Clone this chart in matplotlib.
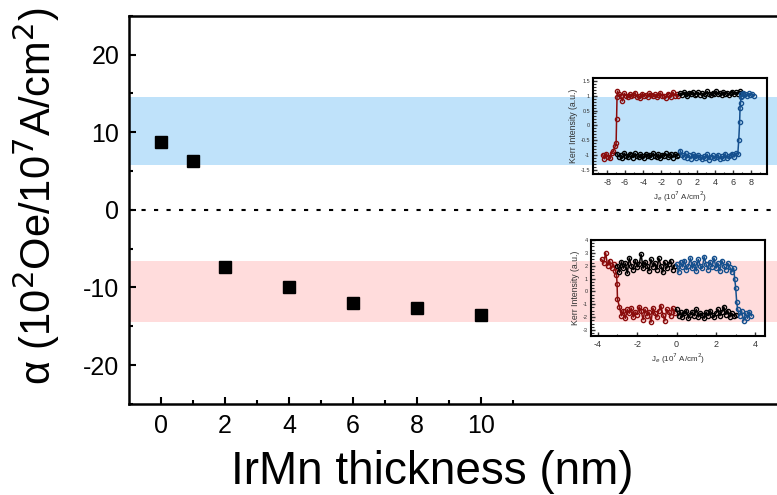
import matplotlib
matplotlib.use("Agg")
import matplotlib.pyplot as plt

plt.rcParams["font.family"] = ["Liberation Sans", "DejaVu Sans"]
plt.rcParams["axes.unicode_minus"] = False

# main data
thickness = [0, 1, 2, 4, 6, 8, 10]
alpha_val = [8.8, 6.3, -7.3, -10.0, -12.0, -12.6, -13.5]
blue_band = [5.8, 14.6]
red_band = [-14.5, -6.6]

# inset 1 (Kerr loop, positive a)
k1_red_x = [-8.5, -8.3, -8.1, -7.9, -7.7, -7.5, -7.3, -7.1, -7.0, -6.95, -6.9, -6.85,
            -6.7, -6.5, -6.3, -6.1, -5.9, -5.7, -5.5, -5.3, -5.1, -4.9, -4.7, -4.5,
            -4.3, -4.1, -3.9, -3.7, -3.5, -3.3, -3.1, -2.9, -2.7, -2.5, -2.3, -2.1,
            -1.9, -1.7, -1.5, -1.3, -1.1, -0.9, -0.7, -0.5, -0.3, -0.1]
k1_red_y = [-0.98, -1.12, -0.95, -1.05, -1.1, -0.92, -0.85, -0.7, -0.6, 0.22, 0.95, 1.15,
            1.05, 0.98, 0.82, 1.08, 1.0, 0.94, 1.06, 0.97, 1.02, 1.1, 0.96, 1.0,
            0.93, 1.07, 0.99, 1.03, 0.95, 1.08, 1.01, 0.97, 1.05, 0.94, 1.02, 1.09,
            0.98, 1.0, 0.93, 1.06, 1.01, 0.96, 1.12, 0.99, 1.04, 1.0]
k1_blk_up_x = [0.1, 0.3, 0.5, 0.7, 0.9, 1.1, 1.3, 1.5, 1.7, 1.9, 2.1, 2.3, 2.5, 2.7,
               2.9, 3.1, 3.3, 3.5, 3.7, 3.9, 4.1, 4.3, 4.5, 4.7, 4.9, 5.1, 5.3, 5.5,
               5.7, 5.9, 6.1, 6.3, 6.5, 6.7, 6.9]
k1_blk_up_y = [1.08, 1.02, 1.12, 1.05, 0.99, 1.1, 1.04, 1.13, 1.01, 1.07, 1.11, 1.03,
               1.09, 1.0, 1.06, 1.14, 1.05, 1.02, 1.1, 1.07, 1.15, 1.04, 1.09, 1.01,
               1.12, 1.06, 1.1, 1.03, 1.08, 1.13, 1.05, 1.11, 1.07, 1.15, 1.09]
k1_blk_lo_x = [-6.9, -6.7, -6.5, -6.3, -6.1, -5.9, -5.7, -5.5, -5.3, -5.1, -4.9, -4.7,
               -4.5, -4.3, -4.1, -3.9, -3.7, -3.5, -3.3, -3.1, -2.9, -2.7, -2.5, -2.3,
               -2.1, -1.9, -1.7, -1.5, -1.3, -1.1, -0.9, -0.7, -0.5, -0.3, -0.1]
k1_blk_lo_y = [-0.95, -1.05, -0.98, -1.1, -0.93, -1.02, -1.07, -0.96, -1.0, -1.08, -0.94,
               -1.03, -1.06, -0.97, -1.01, -1.09, -0.95, -1.04, -0.99, -1.07, -0.93, -1.02,
               -1.05, -0.96, -1.1, -0.98, -1.03, -0.94, -1.06, -1.0, -0.97, -1.08, -0.95,
               -1.02, -0.99]
k1_blue_x = [0.1, 0.3, 0.5, 0.7, 0.9, 1.1, 1.3, 1.5, 1.7, 1.9, 2.1, 2.3, 2.5, 2.7,
             2.9, 3.1, 3.3, 3.5, 3.7, 3.9, 4.1, 4.3, 4.5, 4.7, 4.9, 5.1, 5.3, 5.5,
             5.7, 5.9, 6.1, 6.3, 6.5, 6.6, 6.7, 6.75, 6.8, 6.85, 6.9, 7.0,
             7.1, 7.3, 7.5, 7.7, 7.9, 8.1, 8.3]
k1_blue_y = [-0.85, -0.98, -1.05, -0.92, -1.08, -1.0, -1.12, -0.96, -1.04, -1.1, -0.99,
             -1.07, -1.14, -1.02, -1.09, -0.97, -1.15, -1.05, -1.0, -1.11, -1.06, -0.98,
             -1.13, -1.03, -1.08, -0.95, -1.1, -1.04, -1.0, -0.97, -1.06, -0.93, -0.95,
             -0.5, 0.1, 0.6, 0.75, 0.95, 1.05, 1.0,
             1.1, 1.05, 0.98, 1.08, 1.02, 1.05, 1.0]

# inset 2 (Kerr loop, negative a)
k2_red_x = [-3.8, -3.7, -3.6, -3.5, -3.4, -3.3, -3.2, -3.1, -3.05, -3.02, -3.0,
            -2.9, -2.8, -2.7, -2.6, -2.5, -2.4, -2.3, -2.2, -2.1, -2.0, -1.9, -1.8,
            -1.7, -1.6, -1.5, -1.4, -1.3, -1.2, -1.1, -1.0, -0.9, -0.8, -0.7, -0.6,
            -0.5, -0.4, -0.3, -0.2, -0.1]
k2_red_y = [2.5, 2.2, 3.0, 2.0, 2.4, 1.8, 2.1, 1.6, 1.3, 0.6, -0.6,
            -1.2, -1.9, -1.5, -2.1, -1.4, -1.7, -1.3, -2.0, -1.6, -1.8, -1.2, -1.5,
            -2.2, -1.4, -1.9, -1.6, -2.4, -1.3, -1.7, -2.0, -1.5, -1.1, -1.8, -2.3,
            -1.4, -1.6, -1.9, -1.3, -1.7]
k2_blk_up_x = [-3.0, -2.9, -2.8, -2.7, -2.6, -2.5, -2.4, -2.3, -2.2, -2.1, -2.0, -1.9,
               -1.8, -1.7, -1.6, -1.5, -1.4, -1.3, -1.2, -1.1, -1.0, -0.9, -0.8, -0.7,
               -0.6, -0.5, -0.4, -0.3, -0.2, -0.1]
k2_blk_up_y = [2.0, 1.5, 2.3, 1.8, 2.2, 1.4, 2.6, 2.0, 1.7, 2.4, 1.9, 2.1,
               2.9, 1.8, 2.3, 2.0, 1.6, 2.5, 1.9, 2.2, 1.7, 2.6, 2.0, 1.5,
               2.3, 1.8, 2.1, 2.4, 1.7, 2.0]
k2_blue_x = [0.0, 0.1, 0.2, 0.3, 0.4, 0.5, 0.6, 0.7, 0.8, 0.9, 1.0, 1.1, 1.2, 1.3,
             1.4, 1.5, 1.6, 1.7, 1.8, 1.9, 2.0, 2.1, 2.2, 2.3, 2.4, 2.5, 2.6, 2.7,
             2.8, 2.9, 2.95, 3.0, 3.05, 3.1, 3.2, 3.3, 3.4, 3.5, 3.6, 3.7, 3.8]
k2_blue_y = [2.1, 1.5, 2.3, 1.9, 2.4, 1.7, 2.0, 2.6, 1.8, 2.2, 1.6, 2.5, 2.0, 1.8,
             2.7, 2.1, 1.7, 2.3, 1.9, 2.6, 1.8, 2.2, 1.6, 2.4, 2.0, 1.7, 2.2, 1.9,
             1.5, 1.8, 1.0, 0.3, -0.8, -1.4, -1.9, -1.5, -2.3, -1.7, -2.1, -1.6, -1.9]
k2_blk_lo_x = [0.0, 0.1, 0.2, 0.3, 0.4, 0.5, 0.6, 0.7, 0.8, 0.9, 1.0, 1.1, 1.2, 1.3,
               1.4, 1.5, 1.6, 1.7, 1.8, 1.9, 2.0, 2.1, 2.2, 2.3, 2.4, 2.5, 2.6, 2.7,
               2.8, 2.9, 3.0]
k2_blk_lo_y = [-1.4, -1.9, -1.6, -2.0, -1.7, -1.5, -2.1, -1.8, -1.6, -1.9, -1.4, -2.0,
               -1.7, -1.8, -2.1, -1.6, -1.9, -1.5, -1.8, -2.0, -1.7, -1.4, -1.9, -1.6,
               -1.2, -1.8, -1.5, -2.0, -1.7, -1.9, -1.8]

red_c = "#8a0c0c"
blue_c = "#15508e"

fig = plt.figure(figsize=(7.77, 4.95), dpi=100)
ax = fig.add_axes([0.166, 0.184, 0.834, 0.784])

ax.axhspan(blue_band[0], blue_band[1], color="#bfe2fa", lw=0, zorder=0)
ax.axhspan(red_band[0], red_band[1], color="#ffdcdc", lw=0, zorder=0)
ax.axhline(0, color="black", ls=(0, (2, 4)), lw=1.5, zorder=1)
ax.plot(thickness, alpha_val, "s", color="black", ms=9, zorder=3)

ax.set_xlim(-1.0, 19.25)
ax.set_ylim(-25, 25)
ax.set_xticks([0, 2, 4, 6, 8, 10])
ax.set_xticks([1, 3, 5, 7, 9, 11], minor=True)
ax.set_yticks([-20, -10, 0, 10, 20])
ax.set_yticks([-25, -15, -5, 5, 15, 25], minor=True)
ax.tick_params(which="major", direction="in", length=5, width=1.5, labelsize=18, pad=7)
ax.tick_params(which="minor", direction="in", length=3, width=1.5)
ax.spines["right"].set_visible(False)
for s in ["left", "top", "bottom"]:
    ax.spines[s].set_linewidth(1.8)

ax.set_xlabel("IrMn thickness (nm)", fontsize=33)
ax.xaxis.set_label_coords(0.468, -0.12, transform=ax.transAxes)
ax.xaxis.label.set_va("top")
ax.set_ylabel("α (10$^2$Oe/10$^7$A/cm$^2$)", fontsize=30)
ax.yaxis.set_label_coords(-0.143, 0.536, transform=ax.transAxes)
ax.yaxis.label.set_va("center")


def kerr_inset(rect, segments, xlim, ylim, xt, xminor, yt, yminor, ylabels):
    ins = fig.add_axes(rect)
    ins.patch.set_alpha(0)
    for xs, ys, c in segments:
        ins.plot(xs, ys, "-o", color=c, lw=1.1, ms=3.0, mfc="none", mew=1.0)
    ins.set_xlim(*xlim)
    ins.set_ylim(*ylim)
    ins.set_xticks(xt)
    ins.set_xticks(xminor, minor=True)
    ins.set_yticks(yt)
    ins.set_yticklabels(ylabels)
    ins.set_yticks(yminor, minor=True)
    ins.tick_params(which="major", direction="in", length=3, width=1, pad=2, colors="#333333")
    ins.tick_params(which="minor", direction="in", length=1.8, width=0.8, colors="#333333")
    ins.tick_params(axis="x", labelsize=6.5, pad=3)
    ins.tick_params(axis="y", labelsize=4)
    for s in ins.spines.values():
        s.set_linewidth(1.5)
    ins.set_xlabel("J$_e$ (10$^7$ A/cm$^2$)", fontsize=5.8, color="#333333", labelpad=2)
    ins.set_ylabel("Kerr Intensity (a.u.)", fontsize=6.3, color="#333333", labelpad=2)
    return ins


kerr_inset([0.7628, 0.6485, 0.2239, 0.1933],
           [(k1_red_x, k1_red_y, red_c), (k1_blk_up_x, k1_blk_up_y, "black"),
            (k1_blk_lo_x, k1_blk_lo_y, "black"), (k1_blue_x, k1_blue_y, blue_c)],
           (-9.6, 9.7), (-1.63, 1.58),
           [-8, -6, -4, -2, 0, 2, 4, 6, 8], [-9, -7, -5, -3, -1, 1, 3, 5, 7, 9],
           [-1.5, -1, -0.5, 0, 0.5, 1, 1.5],
           [-1.4, -1.3, -1.2, -1.1, -0.9, -0.8, -0.7, -0.6, -0.4, -0.3, -0.2, -0.1,
            0.1, 0.2, 0.3, 0.4, 0.6, 0.7, 0.8, 0.9, 1.1, 1.2, 1.3, 1.4],
           ["-1.5", "-1", "-0.5", "0", "0.5", "1", "1.5"])

kerr_inset([0.7602, 0.3218, 0.2244, 0.1933],
           [(k2_red_x, k2_red_y, red_c), (k2_blk_up_x, k2_blk_up_y, "black"),
            (k2_blk_lo_x, k2_blk_lo_y, "black"), (k2_blue_x, k2_blue_y, blue_c)],
           (-4.36, 4.49), (-3.45, 4.0),
           [-4, -2, 0, 2, 4], [-3, -1, 1, 3],
           [-3, -2, -1, 0, 1, 2, 3, 4],
           [-3.25, -2.75, -2.5, -2.25, -1.75, -1.5, -1.25, -0.75, -0.5, -0.25,
            0.25, 0.5, 0.75, 1.25, 1.5, 1.75, 2.25, 2.5, 2.75, 3.25, 3.5, 3.75],
           ["-3", "-2", "-1", "0", "1", "2", "3", "4"])

fig.savefig("out.png", dpi=100)
